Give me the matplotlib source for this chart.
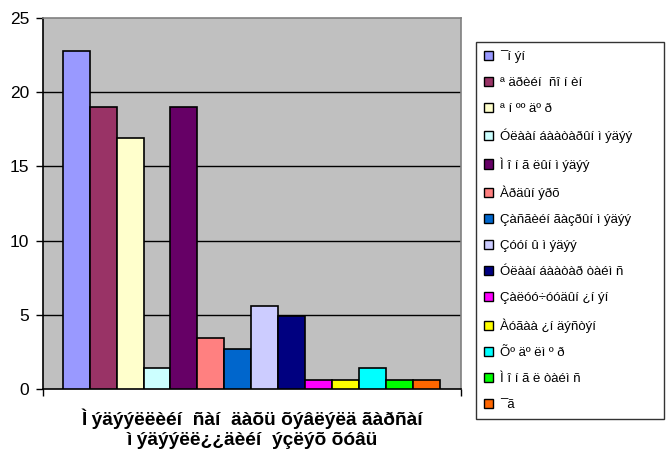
import matplotlib
matplotlib.use("Agg")
import matplotlib.pyplot as plt
from matplotlib.patches import Patch

plt.rcParams["font.family"] = ["Liberation Sans", "DejaVu Sans"]

# data (labels kept exactly as shown)
labels = [
    "¯í ýí",
    "ª äðèéí  ñî í èí",
    "ª í ºº äº ð",
    "Óëààí áààòàðûí ì ýäýý",
    "Ì î í ã ëûí ì ýäýý",
    "Àðäûí ýðõ",
    "Çàñãèéí ãàçðûí ì ýäýý",
    "Çóóí û ì ýäýý",
    "Óëààí áààòàð òàéì ñ",
    "Çàëóó÷óóäûí ¿í ýí",
    "Àóãàà ¿í äýñòýí",
    "Õº äº ëì º ð",
    "Ì î í ã ë òàéì ñ",
    "¯ã",
]
values = [22.8, 19, 16.9, 1.4, 19, 3.45, 2.7, 5.57, 4.92, 0.6, 0.6, 1.4, 0.6, 0.6]
xlabel = "Ì ýäýýëëèéí  ñàí  äàõü õýâëýëä ãàðñàí\nì ýäýýëë¿¿äèéí  ýçëýõ õóâü"
yticks = [0, 5, 10, 15, 20, 25]

colors = ["#9999FF", "#993366", "#FFFFCC", "#CCFFFF", "#660066", "#FF8080", "#0066CC",
          "#CCCCFF", "#000080", "#FF00FF", "#FFFF00", "#00FFFF", "#00FF00", "#FF6600"]

W, H = 666, 449
fig = plt.figure(figsize=(W / 100, H / 100), dpi=100)
fig.patch.set_facecolor("white")
ax = fig.add_axes([43 / W, 1 - 389 / H, 418 / W, 371 / H])
ax.set_facecolor("#C0C0C0")

x = list(range(len(values)))
ax.bar(x, values, width=1.0, color=colors, edgecolor="black", linewidth=1.2, zorder=3)

ax.set_xlim(-1.23, 14.28)
ax.set_ylim(0, 25)
ax.set_yticks(yticks)
ax.set_yticklabels([str(v) for v in yticks], fontsize=12.5)
for v in yticks[1:-1]:
    ax.axhline(v, color="black", linewidth=1, zorder=1)

ax.set_xticks([-1.23, 14.28])
ax.set_xticklabels(["", ""])
ax.tick_params(axis="both", direction="out", length=5, width=1, color="black", pad=5)

ax.spines["left"].set_color("black")
ax.spines["bottom"].set_color("black")
ax.spines["top"].set_color("#808080")
ax.spines["right"].set_color("#808080")
for s in ax.spines.values():
    s.set_linewidth(1.2)

fig.text(252 / W, 1 - 429 / H, xlabel, ha="center", va="center",
         fontsize=13.8, fontweight="bold", linespacing=1.2)

handles = [Patch(facecolor=c, edgecolor="black", linewidth=1) for c in colors]
leg = fig.legend(handles, labels, loc="upper left",
                 bbox_to_anchor=(476 / W, 1 - 42 / H, 188 / W, 0), mode="expand",
                 fontsize=9.5, frameon=True, fancybox=False,
                 handlelength=0.7, handleheight=0.7,
                 handletextpad=0.5, labelspacing=1.05, borderpad=0.6,
                 borderaxespad=0)
leg.get_frame().set_edgecolor("black")
leg.get_frame().set_linewidth(1)

fig.savefig("out.png", dpi=100)
